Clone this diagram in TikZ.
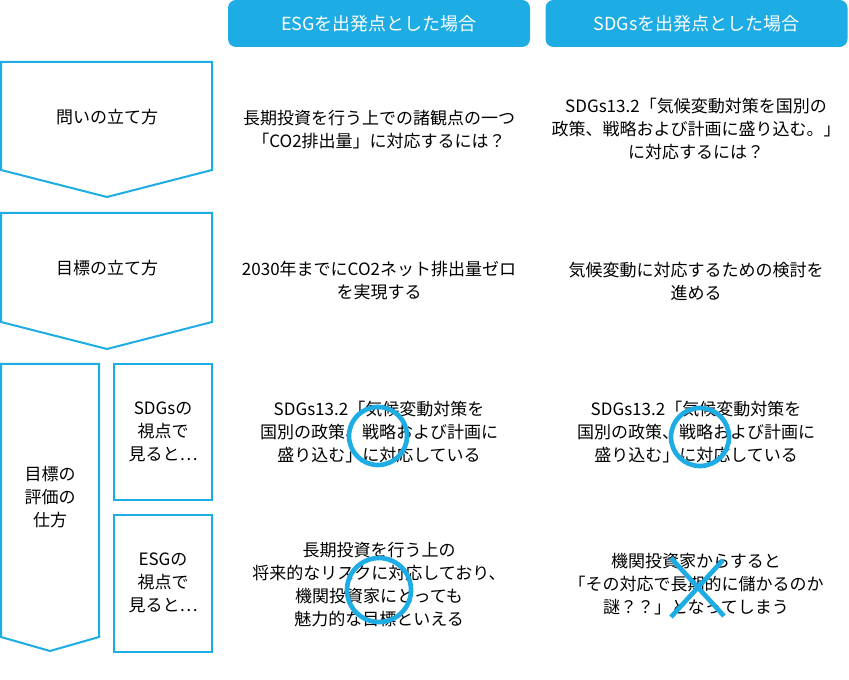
\documentclass[tikz,border=0pt]{standalone}
\usepackage{fontspec}
\setmainfont{Noto Sans CJK JP}
\usetikzlibrary{positioning}
\definecolor{mBlue}{HTML}{1DACE3}

\begin{document}
\begin{tikzpicture}[x=0.75pt, y=-0.75pt,
  head/.style={fill=mBlue, rounded corners=6pt, text=white, inner sep=0pt,
               font=\fontsize{13.5}{16}\selectfont,
               minimum width=226.5pt, minimum height=35.25pt},
  frame/.style={draw=mBlue, line width=1.5pt},
  label/.style={font=\fontsize{12.75}{17.25}\selectfont, align=center},
  cell/.style={font=\fontsize{12.75}{17.25}\selectfont, align=center},
  okring/.style={draw=mBlue, line width=3.5pt, circle, inner sep=0pt},
  ngcross/.style={draw=mBlue, line width=3.5pt},
]
  \useasboundingbox (0,0) rectangle (849,680);

  % column headers
  \node[head] (esgHead)  at (379,23.5)   {ESGを出発点とした場合};
  \node[head] (sdgsHead) at (696.5,23.5) {SDGsを出発点とした場合};

  % left steps
  \draw[frame] (1,62) -- (212,62) -- (212,170) -- (107,197) -- (1,170) -- cycle;
  \draw[frame] (1,213) -- (212,213) -- (212,322) -- (107,349) -- (1,322) -- cycle;
  \draw[frame] (1,364) -- (99,364) -- (99,637) -- (50,651) -- (1,637) -- cycle;
  \draw[frame] (114,364) rectangle (212,500);
  \draw[frame] (114,515) rectangle (212,652);

  \node[label] (askStep)  at (107,117) {問いの立て方};
  \node[label] (goalStep) at (107,268) {目標の立て方};
  \node[label] (evalStep) at (50,497)  {目標の\\評価の\\仕方};
  \node[label] (sdgsView) at (163,432) {SDGsの\\視点で\\見ると…};
  \node[label] (esgView)  at (163,583) {ESGの\\視点で\\見ると…};

  % ESG column
  \node[cell] (askEsg)  at (379,130) {長期投資を行う上での諸観点の一つ\\「CO2排出量」に対応するには？};
  \node[cell] (goalEsg) at (379,281) {2030年までにCO2ネット排出量ゼロ\\を実現する};
  \node[cell] (sdgsEsg) at (379,432) {SDGs13.2「気候変動対策を\\国別の政策、戦略および計画に\\盛り込む」に対応している};
  \node[cell] (esgEsg)  at (379,585) {長期投資を行う上の\\将来的なリスクに対応しており、\\機関投資家にとっても\\魅力的な目標といえる};

  % SDGs column
  \node[cell] (askSdgs)  at (696,129) {SDGs13.2「気候変動対策を国別の\\政策、戦略および計画に盛り込む。」\\に対応するには？};
  \node[cell] (goalSdgs) at (696,281) {気候変動に対応するための検討を\\進める};
  \node[cell] (sdgsSdgs) at (696,432) {SDGs13.2「気候変動対策を\\国別の政策、戦略および計画に\\盛り込む」に対応している};
  \node[cell] (esgSdgs)  at (696,584) {機関投資家からすると\\「その対応で長期的に儲かるのか\\謎？？」となってしまう};

  % judgement marks
  \node[okring, minimum size=43.5pt] (okSdgsEsg)  at (378,436) {};
  \node[okring, minimum size=43.5pt] (okSdgsSdgs) at (700,437) {};
  \node[okring, minimum size=48pt]   (okEsgEsg)   at (379,590) {};
  \draw[ngcross] (671,558) -- (724,616);
  \draw[ngcross] (671,617) -- (723,560);
\end{tikzpicture}
\end{document}
